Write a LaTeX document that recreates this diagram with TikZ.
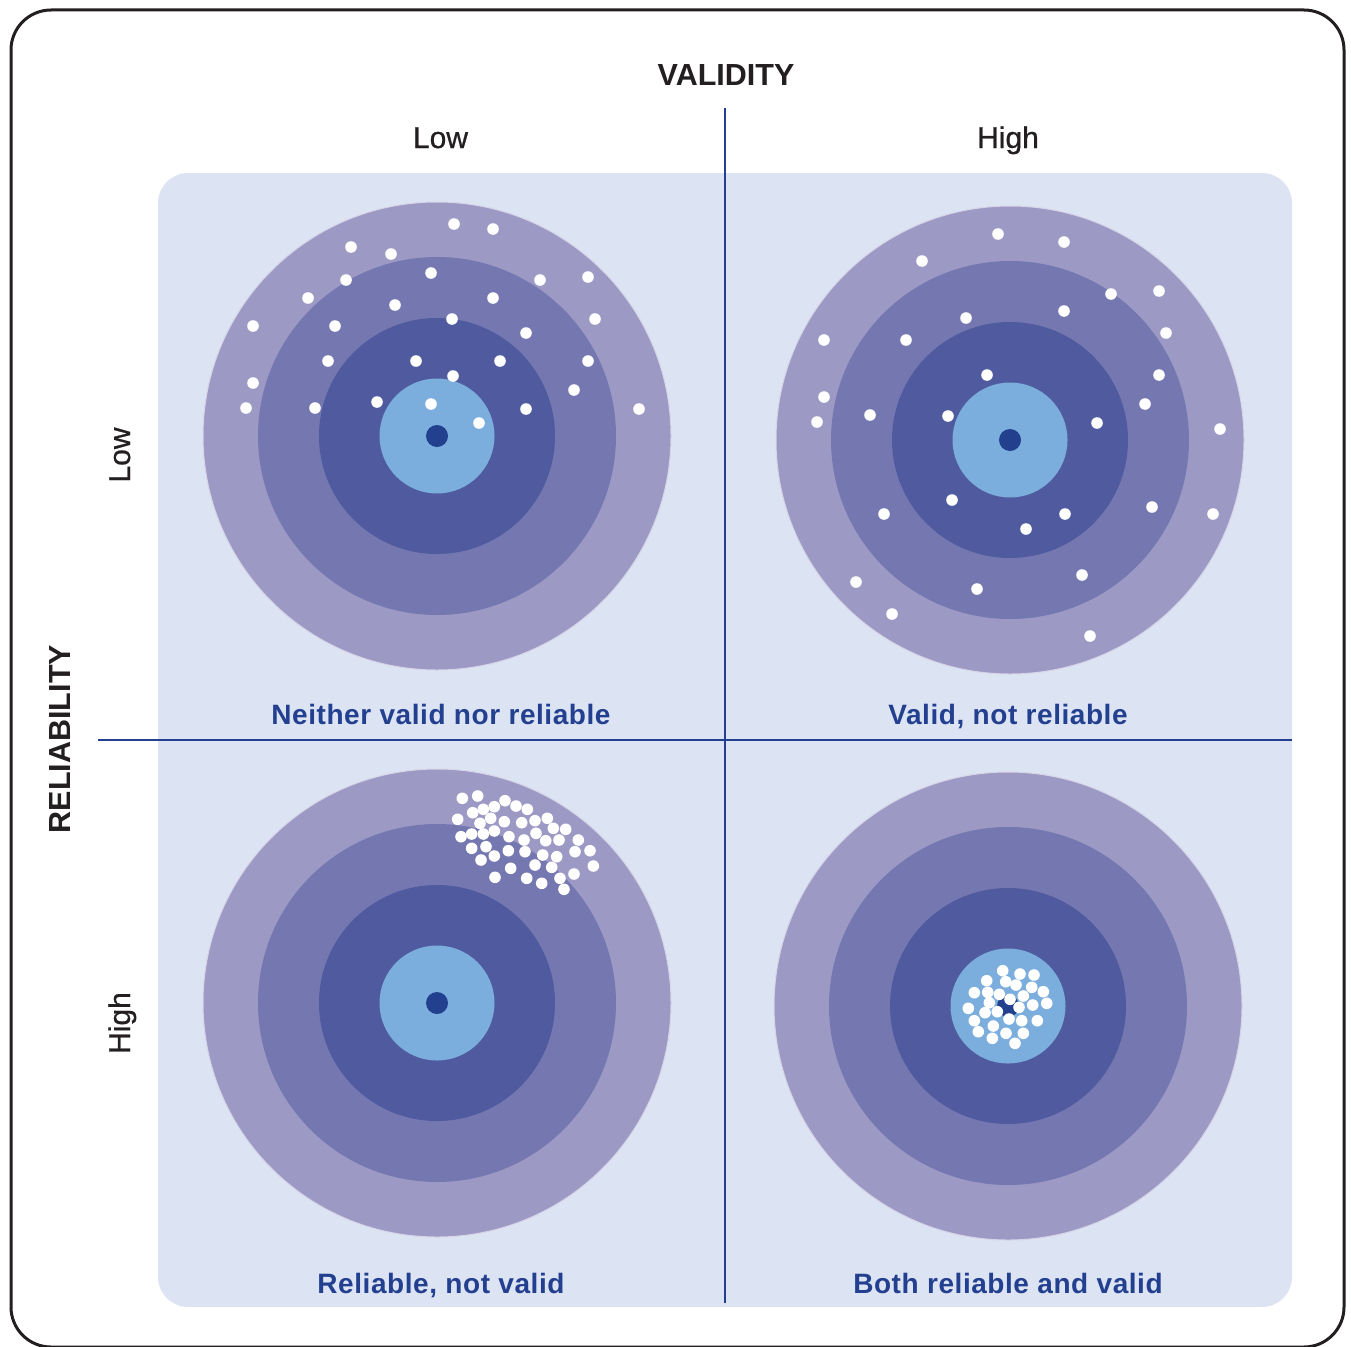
\documentclass[tikz,border=0pt]{standalone}
\usepackage{fontspec}
\setmainfont{Liberation Sans}
\newfontfamily\lblfont{Liberation Sans}[LetterSpace=2]
\newfontfamily\medfont{Liberation Sans}[FakeBold=0.8]
\definecolor{ringA}{HTML}{9C9AC5}
\definecolor{ringB}{HTML}{7577B0}
\definecolor{ringC}{HTML}{4F5A9F}
\definecolor{ringD}{HTML}{7BAEDD}
\definecolor{bull}{HTML}{22408E}
\definecolor{panel}{HTML}{DCE4F3}
\definecolor{ink}{HTML}{231F20}
\definecolor{navy}{HTML}{233F8F}
\definecolor{ringedge}{HTML}{D8D4E8}
\tikzset{
  hit/.style={fill=white},
  axistitle/.style={font=\fontsize{30.5}{36}\selectfont\bfseries, text=ink, inner sep=0pt},
  levellabel/.style={font=\medfont\fontsize{30}{36}\selectfont, text=ink, inner sep=0pt},
  quadlabel/.style={font=\lblfont\fontsize{28}{32}\selectfont\bfseries, text=navy, inner sep=0pt},
  divider/.style={draw=navy, line width=2.7pt}
}
\newcommand\drawtarget[2]{%
  \fill[ringA, draw=ringedge, line width=1pt] (#1,#2) circle (234);
  \fill[ringB] (#1,#2) circle (179);
  \fill[ringC] (#1,#2) circle (118);
  \fill[ringD] (#1,#2) circle (57.5);
  \fill[bull] (#1,#2) circle (11);
}
\begin{document}
\begin{tikzpicture}[x=1pt,y=-1pt]
\useasboundingbox (0,0) rectangle (1351,1346);
% outer frame
\draw[ink, line width=3pt, rounded corners=40pt] (11,10) rectangle (1344,1347);
% panel
\fill[panel, rounded corners=30pt] (158,173) rectangle (1292,1307);
% targets
\drawtarget{437}{436}
\drawtarget{1010}{440}
\drawtarget{437}{1003}
\drawtarget{1008}{1006}
% TL hits
\foreach \x/\y in {454/224,493/229,351/247,391/254,431/273,346/280,540/280,588/277,308/298,493/298,395/305,253/326,335/326,452/319,595/319,526/333,328/361,416/361,500/361,588/361,453/376,253/383,574/390,246/408,315/408,377/402,431/404,526/409,639/409,479/423}
  \fill[hit] (\x,\y) circle (5.8);
% TR hits
\foreach \x/\y in {998/234,1064/242,922/261,1111/294,1159/291,966/318,1064/311,824/340,906/340,1166/333,987/375,1159/375,1145/404,824/397,817/422,870/415,948/416,1097/423,1220/429,952/500,884/514,1065/514,1026/529,1152/507,1213/514,1082/575,856/582,977/589,892/614,1090/636}
  \fill[hit] (\x,\y) circle (5.8);
% BL hits
\foreach \x/\y in {462.3/798.3,477.7/796,505/800.7,516/806,527.3/809.3,494.3/806.7,483.3/809.3,472.7/812.7,490.7/818.3,480/823.3,457.7/819.3,504.3/821.7,521.7/822.7,535/820.7,547.3/818.3,553.3/828.3,565.7/829.3,536/833.3,461/836.7,471.7/834,483.3/834,494.3/831,509/836.7,524/840,545.7/840.7,559/840,578.3/840,471.7/848.3,486/846.7,494.3/856,508.3/850.7,525/851.7,542.7/855,556.7/856.7,575/851.7,590/850.7,481/860,510.7/868.3,535/865,551.7/867.3,574/874,593.3/866,495/877.3,526.7/878.3,541.7/883.3,560/878.3,564/889.3}
  \fill[hit] (\x,\y) circle (5.8);
% BR hits
\foreach \x/\y in {1002.7/970.7,1020/974,1034/975,986.7/980.7,1005.7/981.7,1016/985,1031.7/987.3,974.3/992.7,987.7/992.3,999.3/994.3,1023.3/996,1043.3/991.7,989.3/1002.7,1010/999.3,1032.7/1005,1046.7/1003.3,968.3/1008.3,985/1012.7,997.3/1011.7,1019/1007.3,974.3/1020.7,1009/1019,1021.7/1020.7,1037.3/1020.7,993.3/1026,978.3/1031.7,1006/1033.3,1023.3/1033.3,992.3/1038.3,1015/1043.3}
  \fill[hit] (\x,\y) circle (5.8);
% dividers
\coordinate (vtop) at (725,108);
\coordinate (vbot) at (725,1303);
\coordinate (hleft) at (98,740);
\coordinate (hright) at (1292,740);
\draw[divider] (vtop) -- (vbot);
\draw[divider] (hleft) -- (hright);
% titles
\node[axistitle, anchor=base] (validity) at (726,85) {VALIDITY};
\node[levellabel, anchor=base] (vlow) at (440.5,148) {Low};
\node[levellabel, anchor=base] (vhigh) at (1008,148) {High};
\node[axistitle, anchor=base, rotate=90] (reliability) at (70,739) {RELIABILITY};
\node[levellabel, anchor=base, rotate=90] (rlow) at (130,455) {Low};
\node[levellabel, anchor=base, rotate=90] (rhigh) at (130,1023) {High};
% quadrant labels
\node[quadlabel, anchor=base] (q1) at (441,724) {Neither valid nor reliable};
\node[quadlabel, anchor=base] (q2) at (1008,724) {Valid, not reliable};
\node[quadlabel, anchor=base] (q3) at (441,1293) {Reliable, not valid};
\node[quadlabel, anchor=base] (q4) at (1008,1293) {Both reliable and valid};
\end{tikzpicture}
\end{document}
